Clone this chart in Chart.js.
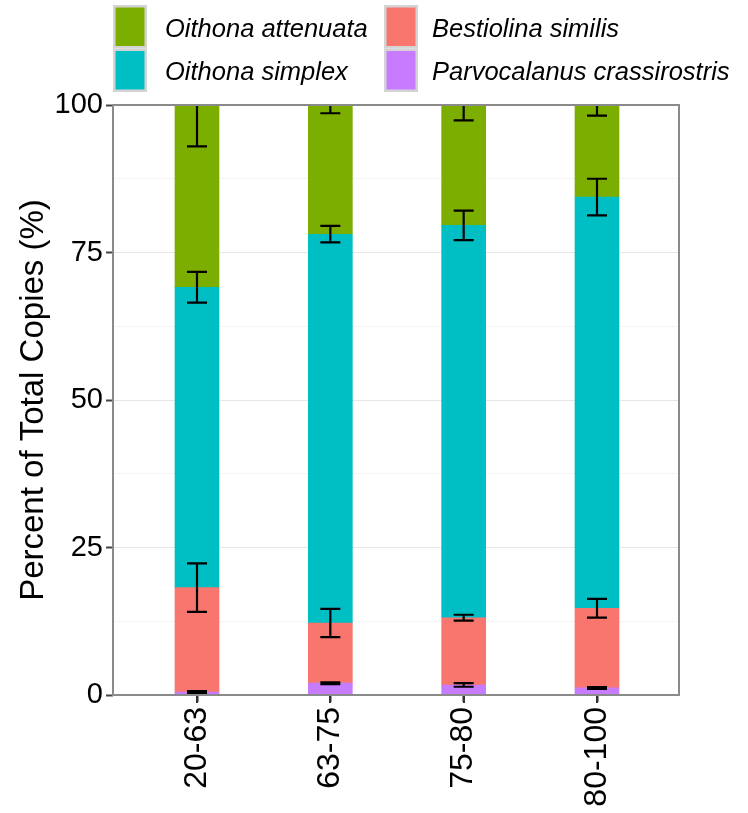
<!DOCTYPE html>
<html>
<head>
<meta charset="utf-8">
<script src="https://cdn.jsdelivr.net/npm/chart.js@4/dist/chart.umd.min.js"></script>
<style>
  html, body { margin: 0; padding: 0; background: #fff; }
  #wrap { width: 748px; height: 813px; }
</style>
</head>
<body>
<div id="wrap"><canvas id="c" width="748" height="813"></canvas></div>
<script>
// Size classes (x categories)
const sizeClasses = ['20-63', '63-75', '75-80', '80-100'];

// Species, stacked bottom to top
const speciesNames = ['Parvocalanus crassirostris', 'Bestiolina similis', 'Oithona simplex', 'Oithona attenuata'];
const speciesColors = ['#C77CFF', '#F8766D', '#00BFC4', '#7CAE00'];

// Percent of total copies per species
const parvocalanus = [0.5, 2.0, 1.7, 1.2];
const bestiolina   = [17.7, 10.2, 11.4, 13.5];
const simplex      = [50.9, 65.9, 66.5, 69.7];
const attenuata    = [30.9, 21.9, 20.4, 15.6];

// Error (+/-) drawn at the top of each stacked segment
const parvocalanusErr = [0.15, 0.15, 0.3, 0.15];
const bestiolinaErr   = [4.1, 2.4, 0.5, 1.6];
const simplexErr      = [2.6, 1.4, 2.5, 3.1];
const attenuataErr    = [7.0, 1.4, 2.6, 1.8];

// Y axis tick labels; minor gridlines sit half-way between them
const yTicks = [0, 25, 50, 75, 100];
const yMinor = [12.5, 37.5, 62.5, 87.5];

// Legend layout: columns filled top to bottom
const legendOrder = [3, 2, 1, 0];

const seriesValues = [parvocalanus, bestiolina, simplex, attenuata];
const seriesErrors = [parvocalanusErr, bestiolinaErr, simplexErr, attenuataErr];

const FONT = "'Liberation Sans', Arial, Helvetica, sans-serif";

const datasets = speciesNames.map((name, s) => ({
  label: name,
  data: seriesValues[s].map((v, i) => ({ x: i, y: v })),
  err: seriesErrors[s],
  backgroundColor: speciesColors[s],
  borderWidth: 0,
  barThickness: 44
}));

// Error bars on cumulative segment tops, clipped to the panel;
// then the panel border and the category tick marks
const errorBars = {
  id: 'errorBars',
  afterDatasetsDraw(chart) {
    const { ctx, chartArea: a, scales: { x, y } } = chart;
    ctx.save();
    ctx.beginPath();
    ctx.rect(a.left, a.top, a.right - a.left, a.bottom - a.top);
    ctx.clip();
    ctx.strokeStyle = '#000';
    ctx.lineWidth = 2.2;
    sizeClasses.forEach((_, i) => {
      let cum = 0;
      chart.data.datasets.forEach(ds => {
        cum += ds.data[i].y;
        const e = ds.err[i];
        const px = x.getPixelForValue(i);
        const y1 = y.getPixelForValue(cum + e);
        const y2 = y.getPixelForValue(cum - e);
        ctx.beginPath();
        ctx.moveTo(px, y1); ctx.lineTo(px, y2);
        ctx.moveTo(px - 10, y1); ctx.lineTo(px + 10, y1);
        ctx.moveTo(px - 10, y2); ctx.lineTo(px + 10, y2);
        ctx.stroke();
      });
    });
    ctx.restore();

    ctx.save();
    ctx.strokeStyle = '#8A8A8A';
    ctx.lineWidth = 2;
    ctx.strokeRect(a.left, a.top, a.right - a.left, a.bottom - a.top);
    ctx.strokeStyle = '#333';
    ctx.beginPath();
    sizeClasses.forEach((_, i) => {
      const px = Math.round(x.getPixelForValue(i));
      ctx.moveTo(px, a.bottom + 1);
      ctx.lineTo(px, a.bottom + 8);
    });
    ctx.stroke();
    ctx.restore();
  }
};

// Two-column legend with grey-framed keys
const keyLegend = {
  id: 'keyLegend',
  afterDraw(chart) {
    const ctx = chart.ctx;
    const cols = [{ kx: 113, tx: 165 }, { kx: 384, tx: 432 }];
    const top = 5, rowH = 43.5, keyW = 34, inset = 2.5;
    ctx.save();
    ctx.font = "italic 25.5px " + FONT;
    ctx.textBaseline = 'middle';
    ctx.textAlign = 'left';
    legendOrder.forEach((s, k) => {
      const col = cols[Math.floor(k / 2)];
      const row = k % 2;
      const ky = top + row * rowH;
      ctx.fillStyle = '#D4D4D4';
      ctx.fillRect(col.kx, ky, keyW, rowH);
      ctx.fillStyle = speciesColors[s];
      ctx.fillRect(col.kx + inset, ky + inset, keyW - 2 * inset, rowH - 2 * inset);
      ctx.fillStyle = '#000';
      ctx.fillText(speciesNames[s], col.tx, ky + rowH / 2 + 3);
    });
    ctx.restore();
  }
};

new Chart(document.getElementById('c'), {
  type: 'bar',
  data: { datasets },
  plugins: [errorBars, keyLegend],
  options: {
    responsive: false,
    animation: false,
    devicePixelRatio: 1,
    layout: { padding: { top: 105, right: 69, left: 0, bottom: 0 } },
    plugins: { legend: { display: false }, tooltip: { enabled: false } },
    scales: {
      x: {
        type: 'linear',
        stacked: true,
        min: -0.63,
        max: 3.615,
        offset: false,
        afterBuildTicks: ax => { ax.ticks = sizeClasses.map((_, i) => ({ value: i })); },
        afterFit: ax => { ax.height = 118; },
        ticks: {
          callback: v => sizeClasses[v],
          minRotation: 90, maxRotation: 90, autoSkip: false,
          color: '#000', padding: 5,
          font: { family: FONT, size: 32 }
        },
        grid: { offset: false, drawOnChartArea: false, tickLength: 7, tickColor: '#333', tickWidth: 2 },
        border: { display: false }
      },
      y: {
        stacked: true,
        min: 0,
        max: 100,
        afterBuildTicks: ax => {
          ax.ticks = yTicks.concat(yMinor).sort((a, b) => a - b).map(v => ({ value: v }));
        },
        afterFit: ax => { ax.width = 113; },
        ticks: {
          callback: v => (yTicks.includes(v) ? String(v) : ''),
          color: '#000', padding: 3,
          font: { family: FONT, size: 29 }
        },
        grid: {
          color: c => (yTicks.includes(c.tick.value) ? '#E6E6E6' : '#F4F4F4'),
          tickColor: c => (yTicks.includes(c.tick.value) ? '#444' : 'rgba(0,0,0,0)'),
          lineWidth: 1,
          tickWidth: 2,
          tickLength: 7
        },
        border: { display: false },
        title: {
          display: true,
          text: 'Percent of Total Copies (%)',
          color: '#000',
          font: { family: FONT, size: 33 },
          padding: { top: 14, bottom: 0 }
        }
      }
    }
  }
});
</script>
</body>
</html>
